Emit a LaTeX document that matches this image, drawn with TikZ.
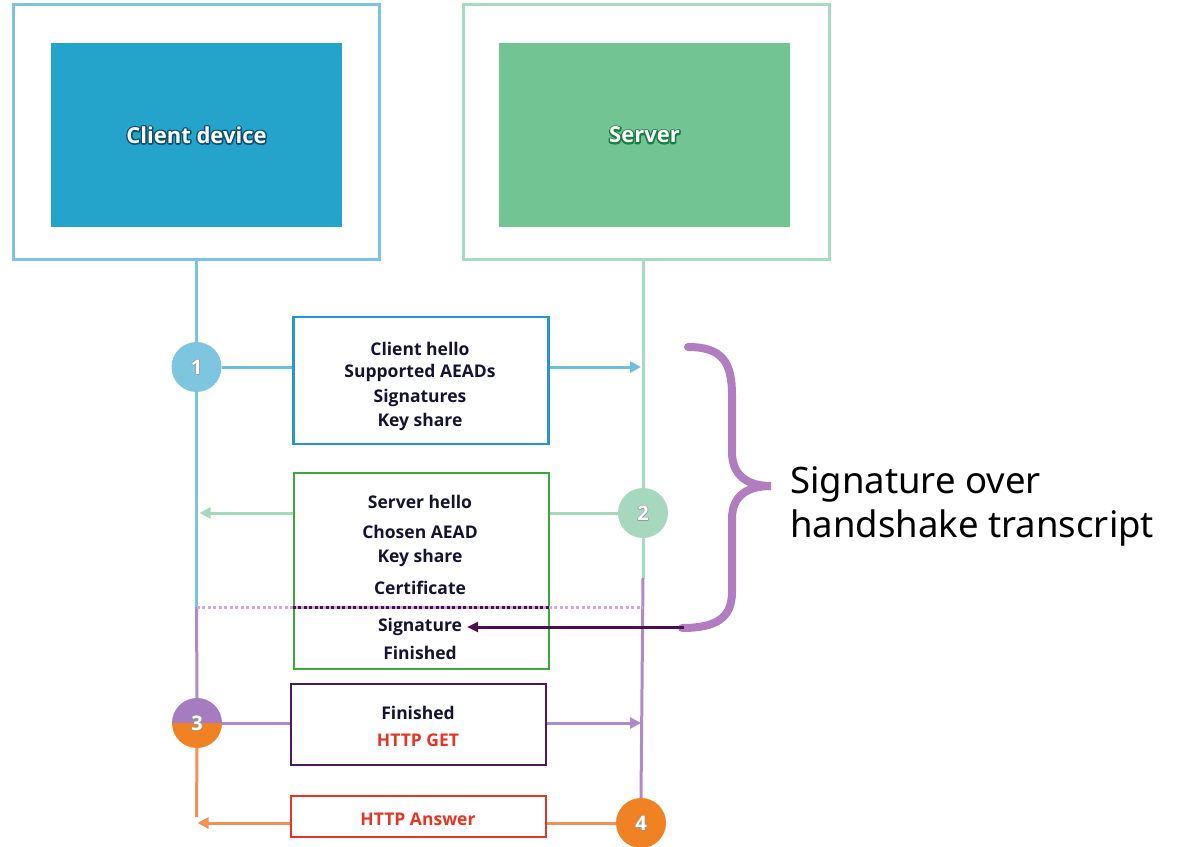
\documentclass[tikz,border=0pt]{standalone}
\usepackage{fontspec}
\setmainfont{Open Sans}
\newfontfamily\notefont{Noto Sans}
\usetikzlibrary{arrows.meta}

\definecolor{clientline}{HTML}{7CC3E2}
\definecolor{clientfill}{HTML}{25A4CB}
\definecolor{clienthalo}{HTML}{0A5070}
\definecolor{serverline}{HTML}{A8DCC0}
\definecolor{serverfill}{HTML}{72C593}
\definecolor{serverhalo}{HTML}{178040}
\definecolor{msgblue}{HTML}{2596D2}
\definecolor{msggreen}{HTML}{3AA83A}
\definecolor{msgpurple}{HTML}{4A1A5A}
\definecolor{msgred}{HTML}{E53524}
\definecolor{arrblue}{HTML}{6CBDE0}
\definecolor{arrgreen}{HTML}{A6D8BD}
\definecolor{arrpurple}{HTML}{B08AC6}
\definecolor{arrorange}{HTML}{F29155}
\definecolor{stepblue}{HTML}{7EC6E0}
\definecolor{stepgreen}{HTML}{A6D8BD}
\definecolor{steppurple}{HTML}{A57CBF}
\definecolor{steporange}{HTML}{F08224}
\definecolor{bracecol}{HTML}{B27CC0}
\definecolor{sigarrow}{HTML}{4D0E4F}
\definecolor{dotlight}{HTML}{D3A9D8}
\definecolor{textnavy}{HTML}{141432}

% white text over a stroked, coloured copy of itself
\newcommand\haloed[3]{\leavevmode\rlap{\special{pdf:literal direct 2 Tr #2 w 1 j}\textcolor{#1}{#3}\special{pdf:literal direct 0 Tr}}#3}

\tikzset{
  hostframe/.style={draw, line width=3pt, minimum width=366pt, minimum height=255pt},
  hostcore/.style={minimum width=291pt, minimum height=184pt},
  hosttitle/.style={text=white, font=\bfseries\fontsize{22}{26}\selectfont},
  msgbox/.style={draw, line width=2.5pt, minimum width=255pt},
  msgtext/.style={font=\bfseries\fontsize{17.5}{21}\selectfont, text=textnavy, inner sep=0pt},
  stepdot/.style={circle, minimum size=50pt, inner sep=0pt, text=white,
                  font=\bfseries\fontsize{20}{22}\selectfont},
  wire/.style={line width=3pt},
  msgarrow/.style={line width=3pt, -{Triangle[length=11pt,width=11pt]}},
}

\begin{document}
\begin{tikzpicture}[x=1pt,y=-1pt]
\useasboundingbox (0,0) rectangle (1177,846);

% hosts
\node[hostframe, draw=clientline] (cbox) at (196.5,132) {};
\node[hostcore, fill=clientfill] (cin) at (196.5,135) {};
\node[hosttitle] (ctitle) at (cin) {\haloed{clienthalo}{3}{Client device}};
\node[hostframe, draw=serverline] (sbox) at (646,132) {};
\node[hostcore, fill=serverfill] (sin) at (644.5,135) {};
\node[hosttitle] (stitle) at (sin) {\haloed{serverhalo}{3}{Server}};

% lifeline anchor points
\coordinate (ctop) at (196.5,260);
\coordinate (stop) at (643,260);
\coordinate (cdot) at (196.5,607);
\coordinate (sdot) at (643,607);
\coordinate (smid) at (643,578);
\coordinate (cend) at (196.5,817);

% message boxes
\node[msgbox, draw=msgblue, minimum height=127pt] (b1) at (421,380.5) {};
\node[msgbox, draw=msggreen, minimum height=196pt] (b2) at (421.5,571) {};
\node[msgbox, draw=msgpurple, minimum height=81pt] (b3) at (418.5,724.5) {};
\node[msgbox, draw=msgred, minimum height=41pt] (b4) at (418.5,816.5) {};

% step markers
\node[stepdot, fill=stepblue] (c1) at (196.5,367) {};
\node[stepdot, fill=stepgreen] (c2) at (643,513) {};
\node[stepdot] (c3) at (197,723) {};
\begin{scope}
  \clip (c3.center) circle (25pt);
  \fill[steppurple] (172,698) rectangle (222,723);
  \fill[steporange] (172,723) rectangle (222,748);
\end{scope}
\node[stepdot, fill=steporange] (c4) at (641,823) {};
\foreach \n in {1,2,3,4}
  \node[stepdot] (n\n) at (c\n) {\haloed{black!40}{1.2}{\n}};

% lifelines
\draw[wire, clientline] (ctop) -- (c1.north);
\draw[wire, clientline] (c1.south) -- (cdot);
\draw[wire, arrpurple] (cdot) -- (c3.north);
\draw[wire, arrorange] (c3.south) -- (cend);
\draw[wire, serverline] (stop) -- (c2.north);
\draw[wire, serverline] (c2.south) -- (smid);
\draw[wire, arrpurple] (smid) -- (c4.north);

% transcript boundary
\draw[line width=3pt, dotlight, dash pattern=on 3pt off 2.5pt] (cdot) -- (sdot);
\draw[line width=3pt, sigarrow, dash pattern=on 3pt off 2.5pt] (b2.west |- cdot) -- (b2.east |- cdot);

% message arrows
\draw[wire, arrblue] (c1.east) -- (b1.west |- c1);
\draw[msgarrow, arrblue] (b1.east |- c1) -- ([xshift=-2pt]stop |- c1);
\draw[wire, arrgreen] (c2.west) -- (b2.east |- c2);
\draw[msgarrow, arrgreen] (b2.west |- c2) -- ([xshift=3pt]ctop |- c2);
\draw[wire, arrpurple] (c3.east) -- (b3.west |- c3);
\draw[msgarrow, arrpurple] (b3.east |- c3) -- ([xshift=-2pt]stop |- c3);
\draw[wire, arrorange] (c4.west) -- (b4.east |- c4);
\draw[msgarrow, arrorange] (b4.west |- c4) -- ([xshift=1pt]ctop |- c4);

% message contents
\node[msgtext] (t11) at (420,349) {Client hello};
\node[msgtext] (t12) at (420,373) {Supported AEADs};
\node[msgtext] (t13) at (420,398) {Signatures};
\node[msgtext] (t14) at (420,422) {Key share};
\node[msgtext] (t21) at (420,502) {Server hello};
\node[msgtext] (t22) at (420,532) {Chosen AEAD};
\node[msgtext] (t23) at (420,558) {Key share};
\node[msgtext] (t24) at (420,588) {Certificate};
\node[msgtext] (t25) at (420,627) {Signature};
\node[msgtext] (t26) at (420,653) {Finished};
\node[msgtext] (t31) at (418,713) {Finished};
\node[msgtext, text=msgred] (t32) at (418,740) {HTTP GET};
\node[msgtext, text=msgred] (t41) at (418,819) {HTTP Answer};

% brace over the handshake transcript
\draw[bracecol, line width=8pt, line cap=round]
  (688,347) .. controls (722,347) and (732,362) .. (732,395)
  -- (732,452) .. controls (732,476) and (748,486) .. (771,486)
  .. controls (748,486) and (732,495) .. (732,519)
  -- (732,592) .. controls (732,618) and (716,628) .. (682,628);
\coordinate (bracefoot) at (684,627);
\draw[line width=3pt, sigarrow, -{Triangle[length=11pt,width=10pt]}] (bracefoot) -- ([xshift=5pt]t25.east);

\node[font=\notefont\fontsize{36.5}{44}\selectfont, anchor=west, align=left, inner sep=0pt]
  (note) at (790,506) {Signature over\\handshake transcript};
\end{tikzpicture}
\end{document}
